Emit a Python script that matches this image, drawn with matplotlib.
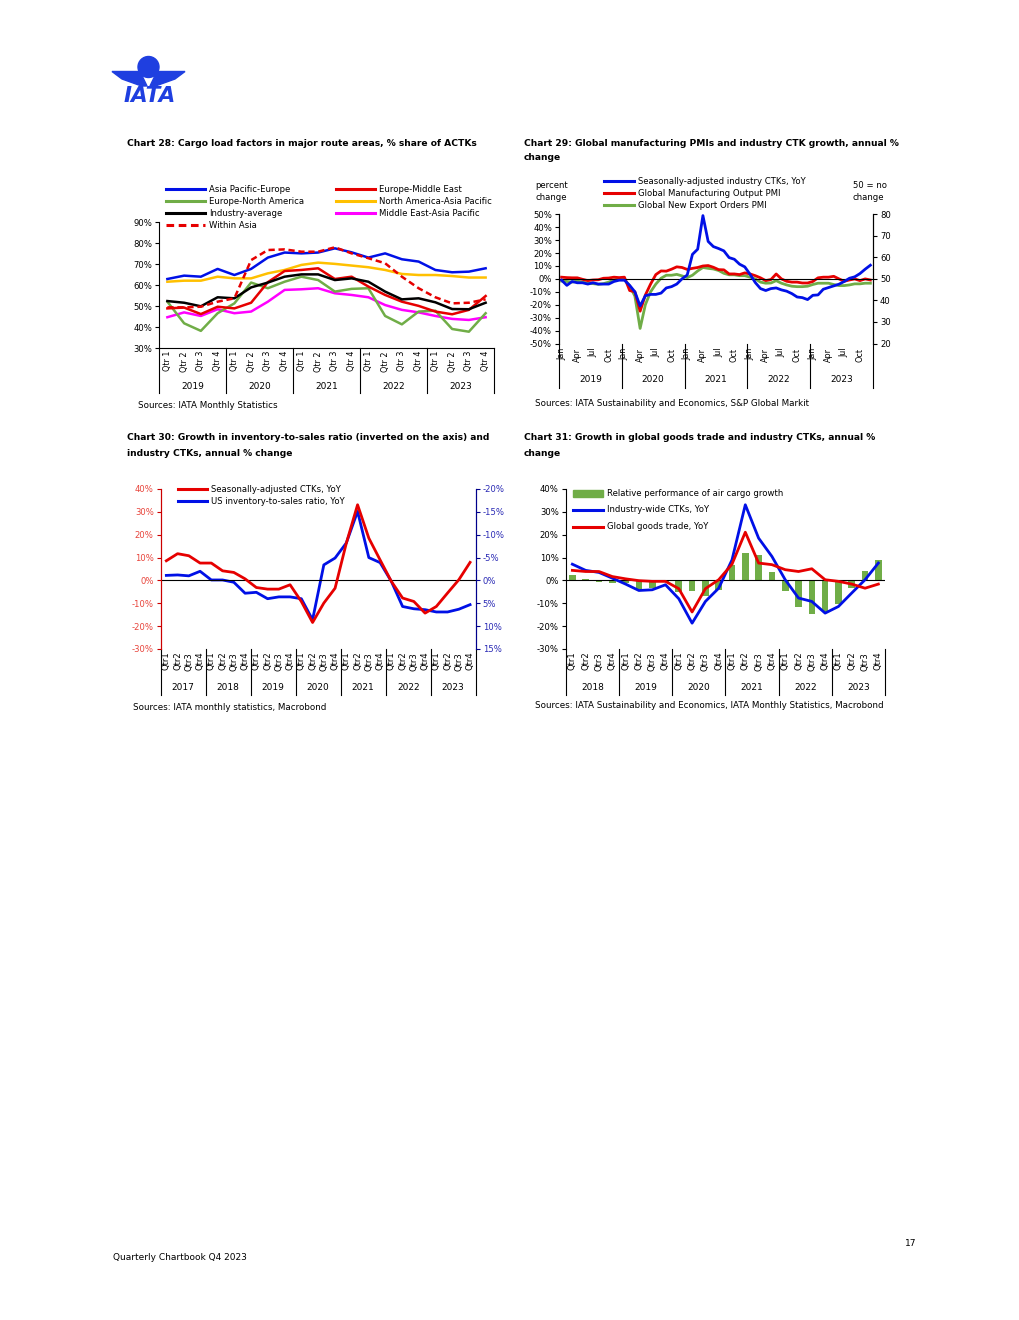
import numpy as np
import matplotlib
matplotlib.use('Agg')
import matplotlib.pyplot as plt
from matplotlib.lines import Line2D
from matplotlib.patches import Ellipse, Polygon, Rectangle

plt.rcParams['font.family'] = 'DejaVu Sans'

# ---- Chart 28: cargo load factors, quarterly 2019-2023 (%)
years_28 = ['2019', '2020', '2021', '2022', '2023']
asia_europe = [63.0, 64.6, 64.1, 67.8, 64.9, 67.8, 73.2, 75.6, 75.2, 75.6,
               77.6, 75.7, 73.2, 75.2, 72.4, 71.3, 67.3, 66.2, 66.5, 68.1]
europe_na = [52.2, 41.9, 38.3, 46.7, 51.4, 61.3, 58.6, 61.7, 64.1, 62.5,
             57.0, 58.3, 58.6, 45.4, 41.4, 47.5, 47.9, 39.2, 37.9, 46.7]
industry_avg = [52.5, 51.7, 50.0, 54.3, 53.8, 59.0, 61.3, 64.1, 65.2, 65.2,
                62.5, 63.3, 61.7, 57.0, 53.3, 53.8, 51.9, 48.7, 48.6, 51.7]
within_asia = [49.5, 49.5, 49.8, 52.2, 53.8, 72.0, 76.8, 77.1, 76.0, 76.0,
               78.1, 75.2, 72.9, 70.5, 64.1, 58.6, 54.3, 51.4, 51.7, 53.3]
europe_me = [49.0, 49.4, 46.3, 49.8, 49.0, 51.7, 61.5, 66.8, 67.3, 68.1,
             63.0, 64.1, 59.4, 55.4, 52.2, 50.2, 47.5, 46.2, 48.3, 54.9]
na_asia = [61.7, 62.2, 62.2, 64.1, 63.3, 63.3, 65.7, 67.3, 69.7, 70.8,
           70.2, 69.4, 68.6, 67.3, 65.4, 64.9, 64.9, 64.4, 63.7, 63.7]
me_asia = [44.8, 47.1, 45.4, 48.6, 46.7, 47.5, 52.2, 57.8, 58.1, 58.6,
           56.2, 55.4, 54.3, 50.6, 48.3, 47.1, 45.4, 44.0, 43.5, 44.8]

# ---- Chart 29: monthly 2019-2023
years_29 = ['2019', '2020', '2021', '2022', '2023']
month_names = ['Jan', 'Apr', 'Jul', 'Oct']
ctk_sa_yoy = [-1, -5, -2, -3, -3, -4, -3, -4, -4, -4, -2, -1,
              -1, -5, -10, -21, -13, -12, -12, -11, -7, -6, -4, 0,
              3, 19, 23, 49, 29, 25, 23.5, 21.7, 16.5, 15.2, 11.4, 9.3,
              3.6, -2.8, -7.5, -9.0, -7.5, -7.0, -8.5, -9.5, -11.4, -14.0, -14.5, -16.0,
              -12.7, -12.4, -8.0, -6.7, -5.4, -4.1, -2.0, 0.5, 1.6, 4.1, 7.5, 10.6]
output_pmi = [50.8, 50.6, 50.5, 50.5, 49.8, 49.2, 49.5, 49.6, 50.3, 50.4, 50.8, 50.6,
              50.8, 44.6, 44.0, 35.0, 42.5, 47.6, 52.0, 53.7, 53.6, 54.5, 55.6, 55.3,
              54.4, 54.9, 55.3, 56.0, 56.2, 55.4, 54.3, 54.2, 52.3, 52.3, 52.0, 52.8,
              52.3, 51.5, 50.5, 49.2, 49.7, 52.3, 50.0, 48.9, 48.5, 48.5, 48.1, 48.1,
              48.8, 50.5, 50.8, 50.8, 51.2, 50.0, 48.9, 49.5, 50.0, 49.2, 50.0, 49.5]
export_pmi = [49.0, 48.8, 48.5, 49.0, 48.5, 48.0, 47.8, 47.5, 47.8, 48.5, 49.5, 50.0,
              49.8, 46.8, 42.0, 27.0, 38.0, 44.0, 47.6, 50.3, 51.7, 51.7, 52.1, 51.4,
              50.6, 51.7, 53.7, 55.3, 54.9, 54.6, 53.9, 52.6, 51.9, 51.9, 51.5, 51.5,
              50.8, 50.0, 48.5, 48.0, 48.1, 49.2, 48.0, 47.2, 46.6, 46.4, 46.4, 46.6,
              47.4, 48.0, 48.0, 48.0, 47.4, 46.9, 46.9, 47.2, 47.7, 47.7, 48.0, 48.0]

# ---- Chart 30: quarterly 2017-2023
years_30 = ['2017', '2018', '2019', '2020', '2021', '2022', '2023']
ctk_30 = [8.6, 11.7, 10.8, 7.6, 7.6, 4.2, 3.5, 0.7, -3.1, -3.8, -3.8, -1.9, -9.2, -18.4,
          -9.9, -3.4, 16.3, 33.1, 18.5, 9.0, -0.4, -7.7, -9.2, -14.3, -11.4, -5.5, 0.3, 7.9]
inv_sales = [-1.1, -1.2, -1.0, -2.0, -0.1, -0.1, 0.4, 2.8, 2.6, 4.0, 3.6, 3.6, 4.0, 8.6,
             -3.4, -4.9, -8.2, -15.1, -5.0, -3.9, 0.2, 5.7, 6.2, 6.4, 6.9, 6.9, 6.3, 5.3]

# ---- Chart 31: quarterly 2018-2023
years_31 = ['2018', '2019', '2020', '2021', '2022', '2023']
relative_perf = [2.5, 0.7, -0.5, -1.0, -1.0, -3.6, -3.4, -0.5, -5.1, -4.8, -6.6, -4.4,
                 6.9, 12.2, 11.2, 3.9, -4.8, -11.8, -14.7, -14.0, -10.3, -3.4, 4.2, 9.0]
ctk_31 = [7.1, 4.4, 3.5, 1.0, -1.6, -4.4, -4.1, -1.9, -8.0, -18.7, -9.2, -3.4,
          9.0, 33.1, 18.5, 10.5, 0.3, -7.7, -9.2, -14.3, -11.4, -5.5, 0.3, 7.6]
goods_trade = [4.4, 3.9, 3.9, 1.7, 0.7, -0.1, -0.4, -0.4, -3.6, -13.8, -3.6, 0.3,
               7.1, 21.1, 7.6, 6.9, 4.7, 3.9, 5.1, 0.3, -0.4, -1.6, -3.4, -1.6]

BLUE = '#0010E6'
RED = '#E60000'
GREEN = '#70AD47'
YELLOW = '#FFC000'
MAGENTA = '#FF00FF'
FS = 6.1
TFS = 6.55

W, H = 1020, 1320
fig = plt.figure(figsize=(W / 100, H / 100), dpi=100)


def ax_at(l, t, r, b):
    return fig.add_axes([l / W, 1 - b / H, (r - l) / W, (b - t) / H])


def ftext(x, y, s, **kw):
    kw.setdefault('va', 'center')
    kw.setdefault('fontsize', FS)
    fig.text(x / W, 1 - y / H, s, **kw)


def legend_line(x0, x1, y, color, label, ls='-', lw=2.2):
    fig.add_artist(Line2D([x0 / W, x1 / W], [1 - y / H, 1 - y / H], color=color,
                          lw=lw, ls=ls, transform=fig.transFigure))
    ftext(x1 + 4, y, label)


def categories(ax, top, bot, n, ticks, labels, group, names, sep_to, year_y, fs=5.8, pad=2):
    h = bot - top
    ax.set_xlim(-0.5, n - 0.5)
    ax.set_xticks(ticks)
    ax.set_xticklabels(labels, rotation=90, fontsize=fs)
    ax.tick_params(axis='x', length=0, pad=pad)
    tr = ax.get_xaxis_transform()
    for k in range(len(names) + 1):
        xb = k * group - 0.5
        ax.plot([xb, xb], [0, -(sep_to - bot) / h], transform=tr, clip_on=False,
                color='black', lw=0.8)
    for k, nm in enumerate(names):
        ax.text(k * group + group / 2 - 0.5, -(year_y - bot) / h, nm, transform=tr,
                ha='center', va='center', fontsize=6.5)


def pct(vals):
    return ['%d%%' % v for v in vals]


# ---- logo
logo = '#1F3FE0'
fig.add_artist(Ellipse((148.5 / W, 1 - 67 / H), 21 / W, 21 / H, transform=fig.transFigure,
                       color=logo))
wing = [(112, 71.5), (140, 71.5), (147, 86), (141.5, 86), (122, 79)]
fig.add_artist(Polygon([(x / W, 1 - y / H) for x, y in wing], transform=fig.transFigure,
                       color=logo))
fig.add_artist(Polygon([((297 - x) / W, 1 - y / H) for x, y in wing],
                       transform=fig.transFigure, color=logo))
ftext(149.5, 95.5, 'IATA', ha='center', fontsize=15.5, fontweight='heavy', style='italic',
      color=logo)

# ================= Chart 28
ftext(127, 143, 'Chart 28: Cargo load factors in major route areas, % share of ACTKs',
      fontweight='bold', fontsize=TFS)
legend_line(166, 205, 189, BLUE, 'Asia Pacific-Europe')
legend_line(166, 205, 201, GREEN, 'Europe-North America')
legend_line(166, 205, 213, 'black', 'Industry-average')
legend_line(166, 205, 225, RED, 'Within Asia', ls=(0, (2.5, 1.5)))
legend_line(336, 375, 189, RED, 'Europe-Middle East')
legend_line(336, 375, 201, YELLOW, 'North America-Asia Pacific')
legend_line(336, 375, 213, MAGENTA, 'Middle East-Asia Pacific')

ax = ax_at(159, 222.3, 494, 348.3)
xq = np.arange(len(asia_europe))
ax.plot(xq, na_asia, color=YELLOW, lw=1.8)
ax.plot(xq, me_asia, color=MAGENTA, lw=1.8)
ax.plot(xq, europe_na, color=GREEN, lw=1.8)
ax.plot(xq, europe_me, color=RED, lw=1.8)
ax.plot(xq, industry_avg, color='black', lw=1.8)
ax.plot(xq, asia_europe, color=BLUE, lw=1.8)
ax.plot(xq, within_asia, color=RED, lw=1.8, ls=(0, (2.5, 1.5)))
ax.set_ylim(30, 90)
ax.set_yticks(range(30, 91, 10))
ax.set_yticklabels(pct(range(30, 91, 10)), fontsize=FS)
ax.tick_params(axis='y', direction='out', length=3, width=0.8, pad=2)
for s in ['top', 'right']:
    ax.spines[s].set_visible(False)
for s in ['left', 'bottom']:
    ax.spines[s].set_linewidth(0.8)
categories(ax, 222.3, 348.3, 20, range(20), ['Qtr 1', 'Qtr 2', 'Qtr 3', 'Qtr 4'] * 5,
           4, years_28, 393, 386)
ftext(138, 405, 'Sources: IATA Monthly Statistics', fontsize=6.3)

# ================= Chart 29
ftext(524, 143, 'Chart 29: Global manufacturing PMIs and industry CTK growth, annual %',
      fontweight='bold', fontsize=TFS)
ftext(524, 158, 'change', fontweight='bold', fontsize=TFS)
ftext(535, 185, 'percent')
ftext(535, 198, 'change')
ftext(853, 185, '50 = no')
ftext(853, 198, 'change')
legend_line(604, 634, 181, BLUE, 'Seasonally-adjusted industry CTKs, YoY')
legend_line(604, 634, 193, RED, 'Global Manufacturing Output PMI')
legend_line(604, 634, 205, GREEN, 'Global New Export Orders PMI')

ax = ax_at(559, 214.3, 873, 343.5)
axr = ax.twinx()
xm = np.arange(len(ctk_sa_yoy))
axr.plot(xm, export_pmi, color=GREEN, lw=2.0)
axr.plot(xm, output_pmi, color=RED, lw=2.0)
ax.plot(xm, ctk_sa_yoy, color=BLUE, lw=2.0)
ax.axhline(0, color='black', lw=0.8, zorder=1)
ax.set_zorder(axr.get_zorder() + 1)
ax.patch.set_visible(False)
ax.set_ylim(-50, 50)
ax.set_yticks(range(-50, 51, 10))
ax.set_yticklabels(pct(range(-50, 51, 10)), fontsize=FS)
axr.set_ylim(20, 80)
axr.set_yticks(range(20, 81, 10))
axr.set_yticklabels([str(v) for v in range(20, 81, 10)], fontsize=FS)
ax.tick_params(axis='y', direction='out', length=3, width=0.8, pad=2)
axr.tick_params(axis='y', direction='out', length=3, width=0.8, pad=2)
for a in (ax, axr):
    a.spines['top'].set_visible(False)
    a.spines['bottom'].set_visible(False)
    a.spines['left'].set_linewidth(0.8)
    a.spines['right'].set_linewidth(0.8)
mt = [y * 12 + m for y in range(5) for m in (0, 3, 6, 9)]
categories(ax, 214.3, 343.5, 60, mt, month_names * 5, 12, years_29, 388, 380, pad=3)
axr.set_xlim(-0.5, 59.5)
ftext(535, 404, 'Sources: IATA Sustainability and Economics, S&P Global Markit', fontsize=6.3)

# ================= Chart 30
ftext(127, 438, 'Chart 30: Growth in inventory-to-sales ratio (inverted on the axis) and',
      fontweight='bold', fontsize=TFS)
ftext(127, 453, 'industry CTKs, annual % change', fontweight='bold', fontsize=TFS)
legend_line(178, 207, 489, RED, 'Seasonally-adjusted CTKs, YoY')
legend_line(178, 207, 501, BLUE, 'US inventory-to-sales ratio, YoY')

ax = ax_at(160.7, 489, 475.7, 649)
axr = ax.twinx()
x30 = np.arange(len(ctk_30))
axr.plot(x30, inv_sales, color=BLUE, lw=2.0)
ax.plot(x30, ctk_30, color=RED, lw=2.0)
ax.axhline(0, color='black', lw=0.8, zorder=1)
ax.set_zorder(axr.get_zorder() + 1)
ax.patch.set_visible(False)
ax.set_ylim(-30, 40)
ax.set_yticks(range(-30, 41, 10))
ax.set_yticklabels(pct(range(-30, 41, 10)), fontsize=FS, color='#E8453C')
axr.set_ylim(15, -20)
axr.set_yticks(range(-20, 16, 5))
axr.set_yticklabels(pct(range(-20, 16, 5)), fontsize=FS, color='#2B2BB5')
ax.tick_params(axis='y', direction='out', length=3, width=0.8, pad=2, color='#CC0000')
axr.tick_params(axis='y', direction='out', length=3, width=0.8, pad=2, color='#00008B')
for a in (ax, axr):
    a.spines['top'].set_visible(False)
    a.spines['bottom'].set_visible(False)
    a.spines['left'].set_color('#CC0000')
    a.spines['right'].set_color('#00008B')
    a.spines['left'].set_linewidth(0.8)
    a.spines['right'].set_linewidth(0.8)
categories(ax, 489, 649, 28, range(28), ['Qtr1', 'Qtr2', 'Qtr3', 'Qtr4'] * 7, 4,
           years_30, 695, 688, fs=6)
axr.set_xlim(-0.5, 27.5)
ftext(133, 708, 'Sources: IATA monthly statistics, Macrobond', fontsize=6.3)

# ================= Chart 31
ftext(524, 438, 'Chart 31: Growth in global goods trade and industry CTKs, annual %',
      fontweight='bold', fontsize=TFS)
ftext(524, 453, 'change', fontweight='bold', fontsize=TFS)
fig.add_artist(Rectangle((573 / W, 1 - 496.5 / H), 30 / W, 7 / H, color=GREEN,
                         transform=fig.transFigure))
ftext(607, 493, 'Relative performance of air cargo growth')
legend_line(573, 603, 510, BLUE, 'Industry-wide CTKs, YoY')
legend_line(573, 603, 527, RED, 'Global goods trade, YoY')

ax = ax_at(565.7, 489, 885, 649)
x31 = np.arange(len(ctk_31))
ax.bar(x31, relative_perf, width=0.5, color=GREEN, zorder=2)
ax.plot(x31, ctk_31, color=BLUE, lw=2.0, zorder=3)
ax.plot(x31, goods_trade, color=RED, lw=2.0, zorder=4)
ax.axhline(0, color='black', lw=0.8, zorder=2.5)
ax.set_ylim(-30, 40)
ax.set_yticks(range(-30, 41, 10))
ax.set_yticklabels(pct(range(-30, 41, 10)), fontsize=FS)
ax.tick_params(axis='y', direction='out', length=3, width=0.8, pad=2)
for s in ['top', 'right', 'bottom']:
    ax.spines[s].set_visible(False)
ax.spines['left'].set_linewidth(0.8)
categories(ax, 489, 649, 24, range(24), ['Qtr1', 'Qtr2', 'Qtr3', 'Qtr4'] * 6, 4,
           years_31, 695, 688, fs=6)
ftext(535, 706, 'Sources: IATA Sustainability and Economics, IATA Monthly Statistics, Macrobond',
      fontsize=6.3)

# ---- footer
ftext(113, 1258, 'Quarterly Chartbook Q4 2023', fontsize=6.5)
ftext(916, 1244, '17', ha='right', fontsize=6.5)

fig.savefig('out.png', dpi=100)
